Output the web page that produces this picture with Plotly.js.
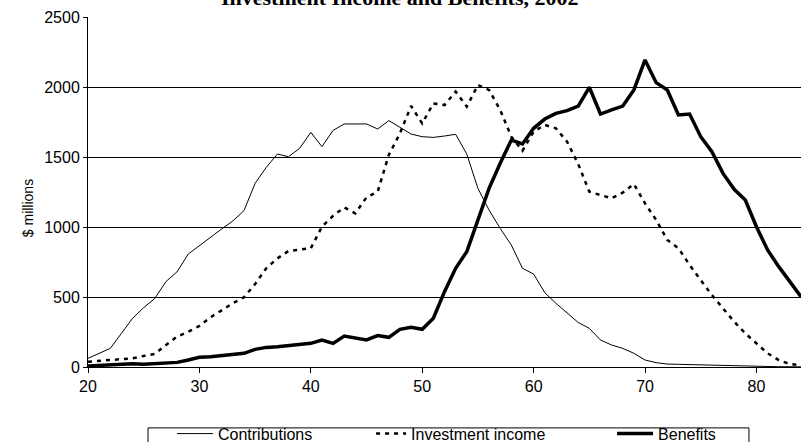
<!DOCTYPE html>
<html>
<head>
<meta charset="utf-8">
<script src="https://cdn.plot.ly/plotly-3.0.1.min.js"></script>
<style>html,body{margin:0;padding:0;background:#fff;}#chart{width:801px;height:442px;}</style>
</head>
<body>
<div id="chart"></div>
<script>
const ages = [20,21,22,23,24,25,26,27,28,29,30,31,32,33,34,35,36,37,38,39,40,41,42,43,44,45,46,47,48,49,50,51,52,53,54,55,56,57,58,59,60,61,62,63,64,65,66,67,68,69,70,71,72,73,74,75,76,77,78,79,80,81,82,83,84];

const contributions = [62,97,133,240,348,424,490,610,681,807,867,931,986,1043,1117,1312,1426,1521,1502,1562,1676,1574,1690,1736,1736,1736,1700,1760,1712,1664,1645,1640,1650,1662,1521,1276,1121,990,871,705,664,531,455,383,318,276,193,157,133,98,50,31,21,19,17,12,10,7,6,5,4,3,2,2,1];

const investmentIncome = [38,45,50,55,62,79,93,157,217,252,293,355,407,455,498,593,705,776,829,836,848,1002,1080,1140,1098,1212,1252,1514,1669,1864,1740,1883,1871,1967,1860,2014,1979,1836,1645,1545,1681,1729,1705,1610,1450,1252,1229,1205,1245,1307,1169,1050,907,848,729,621,514,419,324,240,169,98,50,21,12];

const benefits = [7,10,14,19,24,19,24,31,33,50,69,74,83,90,98,126,140,145,152,157,169,193,169,221,205,193,224,212,269,283,269,348,538,705,824,1050,1276,1455,1621,1593,1705,1771,1812,1831,1863,1998,1807,1836,1864,1979,2193,2031,1979,1800,1807,1645,1538,1383,1269,1193,1002,836,717,610,502];

const seriesNames = ["Contributions","Investment income","Benefits"];
const titleText = "Investment Income and Benefits, 2002";
const yTitle = "$ millions";
const xTicks = [20,30,40,50,60,70,80];
const yTicks = [0,500,1000,1500,2000,2500];

const traces = [
  {x: ages, y: contributions, name: seriesNames[0], type: 'scatter', mode: 'lines',
   line: {color: '#000', width: 1}, legend: 'legend'},
  {x: ages, y: investmentIncome, name: seriesNames[1], type: 'scatter', mode: 'lines',
   line: {color: '#000', width: 2.5, dash: '4px,5px'}, legend: 'legend2'},
  {x: ages, y: benefits, name: seriesNames[2], type: 'scatter', mode: 'lines',
   line: {color: '#000', width: 3.5}, legend: 'legend3'}
];

const FAM = 'Liberation Sans, Arial, sans-serif';
const tickFont = {family: FAM, size: 16, color: '#000'};
const legFont = {family: FAM, size: 16, color: '#000'};

function leg(x, iw) {
  return {orientation: 'h', x: x, xanchor: 'left', y: -0.142, yanchor: 'top',
          borderwidth: 0, bgcolor: 'rgba(0,0,0,0)', font: legFont, itemwidth: iw};
}

const layout = {
  width: 801, height: 442,
  margin: {l: 88, r: 0, t: 17, b: 75, pad: 0, autoexpand: false},
  paper_bgcolor: '#fff', plot_bgcolor: '#fff',
  font: tickFont,
  showlegend: true,
  xaxis: {
    range: [20, 84], tickvals: xTicks, ticktext: xTicks.map(String),
    showgrid: false, zeroline: false, showline: true, linecolor: '#000', linewidth: 1,
    ticks: 'outside', ticklen: 5, tickcolor: '#000', tickfont: tickFont, automargin: false
  },
  yaxis: {
    range: [0, 2500], tickvals: yTicks, ticktext: yTicks.map(String),
    showgrid: true, gridcolor: '#000', gridwidth: 1, zeroline: false,
    showline: true, linecolor: '#000', linewidth: 1,
    ticks: 'outside', ticklen: 4, tickcolor: '#000', tickfont: tickFont, automargin: false
  },
  legend: leg(0.1178, 36),
  legend2: leg(0.397, 30),
  legend3: leg(0.735, 36),
  shapes: [{
    type: 'rect', xref: 'paper', yref: 'paper',
    x0: 0.0842, x1: 0.927, y0: -0.235, y1: -0.174,
    line: {color: '#000', width: 1}, fillcolor: 'rgba(0,0,0,0)'
  }],
  annotations: [
    {text: '<b>' + titleText + '</b>', xref: 'paper', yref: 'paper',
     x: 0.438, xanchor: 'center', y: 1.013, yanchor: 'bottom', showarrow: false,
     font: {family: 'Liberation Serif, Times New Roman, serif', size: 22, color: '#000'}},
    {text: yTitle, xref: 'paper', yref: 'paper', textangle: -90,
     x: -0.084, xanchor: 'center', y: 0.454, yanchor: 'middle', showarrow: false,
     font: {family: FAM, size: 14, color: '#000'}}
  ]
};

Plotly.newPlot('chart', traces, layout, {displayModeBar: false, staticPlot: true});
</script>
</body>
</html>
